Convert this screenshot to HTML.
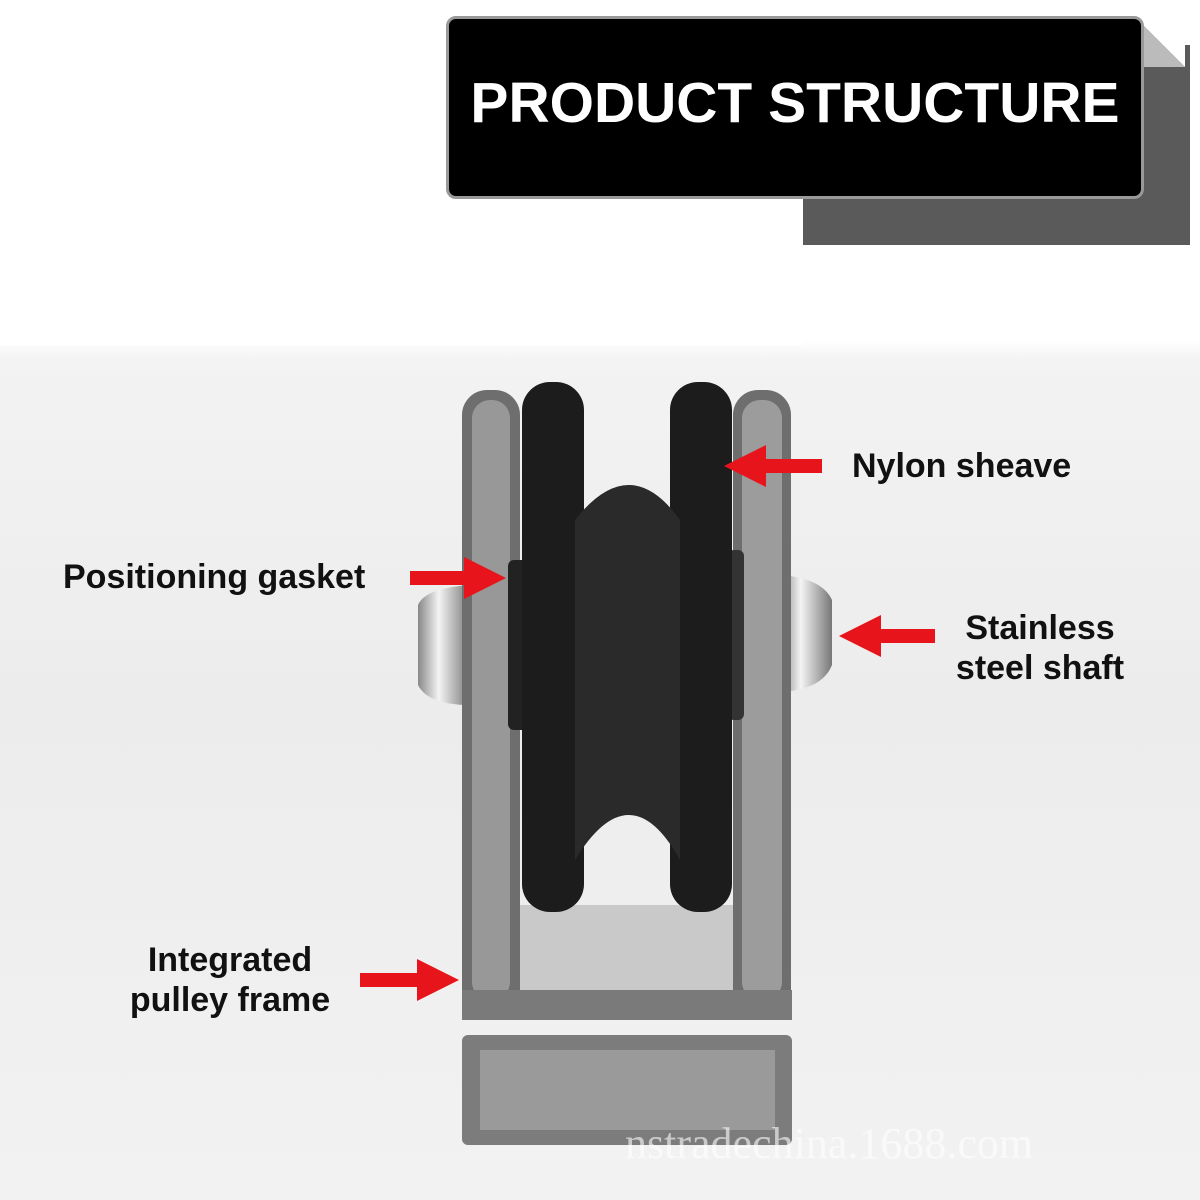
<!DOCTYPE html>
<html><head><meta charset="utf-8"><style>
body{margin:0}
#c{position:relative;width:1200px;height:1200px;overflow:hidden;background:linear-gradient(#fff 0,#fff 340px,#f3f3f3 360px,#ececec 700px,#f2f2f2 1200px);font-family:"Liberation Sans","DejaVu Sans",sans-serif}
.l{position:absolute;font-weight:bold;font-size:34px;color:#111;line-height:40px}
</style></head><body><div id="c">
<div style="position:absolute;left:0;top:0;width:803px;height:345px;background:#fff"></div>
<div style="position:absolute;left:803px;top:45px;width:387px;height:200px;background:#5a5a5a"></div>
<div style="position:absolute;left:1140px;top:22px;width:45px;height:45px;background:linear-gradient(225deg,#fff 50%,#bbb 50%)"></div>
<div style="position:absolute;left:446px;top:16px;width:692px;height:177px;background:#000;border:3px solid #999;border-radius:10px"></div>
<div style="position:absolute;left:449px;top:68px;width:692px;text-align:center;color:#fff;font-weight:bold;font-size:57px;line-height:70px">PRODUCT STRUCTURE</div>
<svg width="1200" height="1200" style="position:absolute;left:0;top:0">
<defs><linearGradient id="s" x1="0" x2="1"><stop offset="0" stop-color="#888"/><stop offset=".4" stop-color="#f4f4f4"/><stop offset="1" stop-color="#777"/></linearGradient>
<marker id="a" markerWidth="3" markerHeight="3" refX="1.5" refY="1.5" orient="auto"><path d="M0,0L3,1.5L0,3z" fill="#e8141b"/></marker></defs>
<rect x="462" y="1035" width="330" height="110" rx="6" fill="#7c7c7c"/>
<rect x="480" y="1050" width="295" height="80" fill="#9a9a9a"/>
<rect x="495" y="905" width="260" height="110" fill="#c9c9c9"/>
<path d="M418,605 Q425,588 470,585 L470,705 Q428,705 418,685 Z" fill="url(#s)"/>
<path d="M780,575 Q822,578 832,600 L832,665 Q822,690 780,692 Z" fill="url(#s)"/>
<rect x="462" y="390" width="58" height="630" rx="25" fill="#6e6e6e"/>
<rect x="472" y="400" width="38" height="600" rx="18" fill="#989898"/>
<rect x="733" y="390" width="58" height="630" rx="25" fill="#6e6e6e"/>
<rect x="742" y="400" width="40" height="600" rx="18" fill="#9c9c9c"/>
<rect x="462" y="990" width="330" height="30" fill="#7a7a7a"/>
<rect x="508" y="560" width="20" height="170" rx="6" fill="#222"/>
<rect x="728" y="550" width="16" height="170" rx="6" fill="#333"/>
<rect x="522" y="382" width="62" height="530" rx="28" fill="#1c1c1c"/>
<rect x="670" y="382" width="62" height="530" rx="28" fill="#1c1c1c"/>
<path d="M575,520 Q630,450 680,520 L680,860 Q630,770 575,860 Z" fill="#2a2a2a"/>
<g stroke="#e8141b" stroke-width="14" marker-end="url(#a)">
<line x1="822" y1="466" x2="745" y2="466"/>
<line x1="410" y1="578" x2="485" y2="578"/>
<line x1="935" y1="636" x2="860" y2="636"/>
<line x1="360" y1="980" x2="438" y2="980"/>
</g>
</svg>
<div class="l" style="left:852px;top:446px">Nylon sheave</div>
<div class="l" style="left:63px;top:557px">Positioning gasket</div>
<div class="l" style="left:920px;top:608px;width:240px;text-align:center">Stainless<br>steel shaft</div>
<div class="l" style="left:105px;top:940px;width:250px;text-align:center">Integrated<br>pulley frame</div>
<div style="position:absolute;left:625px;top:1118px;font-size:44px;color:rgba(255,255,255,.6);font-family:'Liberation Serif',serif">nstradechina.1688.com</div>
</div></body></html>
